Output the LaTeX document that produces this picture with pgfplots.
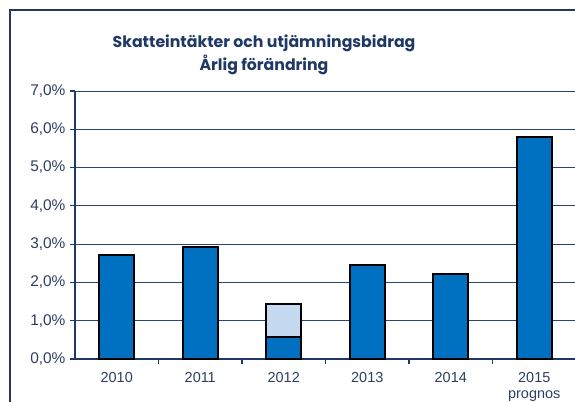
\documentclass[border=0pt]{standalone}
\usepackage{pgfplots}
\pgfplotsset{compat=1.18}
\usepackage{fontspec}
\setmainfont{Liberation Sans}
\newfontfamily\titlefont{Poppins}[UprightFont=* Bold, BoldFont=* Bold]
\definecolor{navy}{RGB}{31,56,100}
\definecolor{gridc}{RGB}{40,70,120}
\definecolor{txt}{RGB}{45,62,98}
\definecolor{barblue}{RGB}{0,112,192}
\definecolor{barlight}{RGB}{197,217,241}
\begin{document}
\begin{tikzpicture}[x=1bp,y=-1bp]
\useasboundingbox (0,0) rectangle (575,401);
\draw[navy, line width=1.5bp] (10,405) -- (10,10) -- (580,10);
\node[font=\titlefont\fontsize{15.8}{23.5}\selectfont, text=navy, align=center] at (264,55)
  {Skatteintäkter och utjämningsbidrag\\Årlig förändring};
\begin{axis}[
  at={(75bp,-359bp)}, anchor=south west,
  scale only axis, width=501bp, height=268bp,
  xmin=-0.5, xmax=5.5, ymin=0, ymax=7,
  ybar stacked, bar width=35bp,
  axis lines=left, axis line style={navy, line width=2.2bp, -},
  ymajorgrids, grid style={gridc, line width=1bp},
  ytick={0,1,...,7},
  yticklabel={\pgfmathprintnumber[fixed,fixed zerofill,precision=1,use comma]{\tick}\%},
  /pgf/number format/assume math mode=true,
  xtick={0,...,5},
  xticklabels={2010,2011,2012,2013,2014,{2015\\prognos}},
  minor xtick={0.5,1.5,2.5,3.5,4.5},
  tick align=outside,
  major tick length=5bp, minor tick length=5bp,
  major x tick style={draw=none},
  tick style={navy, line width=1.2bp},
  yticklabel style={font=\fontsize{15.5}{17}\selectfont, text=txt, xshift=-1bp},
  xticklabel style={font=\fontsize{14.5}{16.5}\selectfont, text=txt, align=center, yshift=-4.5bp},
  clip=false,
]
\addplot[fill=barblue, draw=black, line width=1.8bp] coordinates {(0,2.72) (1,2.92) (2,0.57) (3,2.45) (4,2.23) (5,5.8)};
\addplot[fill=barlight, draw=black, line width=1.8bp] coordinates {(0,0) (1,0) (2,0.86) (3,0) (4,0) (5,0)};
\end{axis}
\end{tikzpicture}
\end{document}
